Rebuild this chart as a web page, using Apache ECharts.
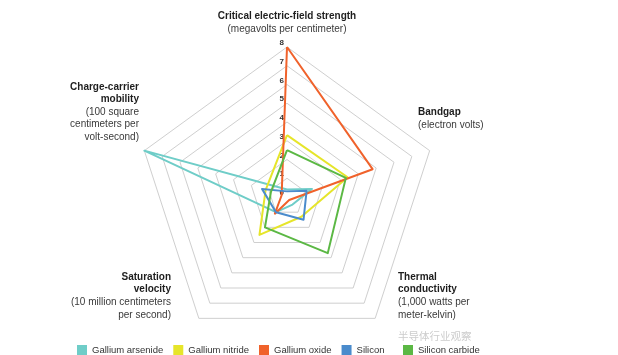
<!DOCTYPE html>
<html>
<head>
<meta charset="utf-8">
<script src="https://cdn.jsdelivr.net/npm/echarts@6/dist/echarts.min.js"></script>
<style>
html,body{margin:0;padding:0;background:#fff;}
#c{width:618px;height:355px;}
</style>
</head>
<body>
<div id="c"></div>
<script>
// Axes (counter-clockwise from top)
const axisNames = ['Critical electric-field strength', 'Charge-carrier mobility', 'Saturation velocity', 'Thermal conductivity', 'Bandgap'];
const axisMax = [8, 8, 8, 8, 8];
const tickLabels = ['0', '1', '2', '3', '4', '5', '6', '7', '8'];
const materials = ['Gallium arsenide', 'Gallium nitride', 'Gallium oxide', 'Silicon', 'Silicon carbide'];
const galliumArsenide = [0.4, 8.0, 1.0, 0.5, 1.4];
const galliumNitride = [3.3, 1.2, 2.5, 1.3, 3.4];
const galliumOxide = [8.0, 0.3, 1.1, 0.2, 4.8];
const silicon = [0.3, 1.4, 1.0, 1.5, 1.1];
const siliconCarbide = [2.5, 0.9, 2.0, 3.7, 3.3];
const colors = ['#6fcdc8', '#e6e52a', '#f0622b', '#4a8bcc', '#5bb844'];

const seriesValues = [galliumArsenide, galliumNitride, galliumOxide, silicon, siliconCarbide];
const FONT = '"Liberation Sans", Arial, sans-serif';

const chart = echarts.init(document.getElementById('c'), null, {renderer: 'canvas'});

function titleText(x, y, align, boldLines, normalLines, lh) {
  const parts = boldLines.map(s => '{b|' + s + '}').concat(normalLines.map(s => '{n|' + s + '}'));
  return {
    type: 'text', x: x, y: y, silent: true,
    style: {
      text: parts.join('\n'), align: align, verticalAlign: 'top',
      rich: {
        b: {fontFamily: FONT, fontSize: 10, fontWeight: 'bold', fill: '#1e1e1e', lineHeight: lh, align: align},
        n: {fontFamily: FONT, fontSize: 10, fill: '#3a3a3a', lineHeight: lh, align: align}
      }
    }
  };
}

const legendBase = {
  top: 345, padding: 0,
  icon: 'rect', itemWidth: 10, itemHeight: 10, itemGap: 10,
  textStyle: {fontFamily: FONT, fontSize: 9.5, color: '#333'}
};

const option = {
  backgroundColor: '#ffffff',
  animation: false,
  color: colors,
  legend: [
    Object.assign({}, legendBase, {data: materials.slice(0, 4), left: 77}),
    Object.assign({}, legendBase, {data: materials.slice(4), left: 403})
  ],
  radar: {
    center: [287, 197],
    radius: 150,
    startAngle: 90,
    shape: 'polygon',
    splitNumber: 8,
    indicator: axisNames.map((n, i) => ({
      name: n, min: 0, max: axisMax[i],
      axisLabel: i === 0 ? {show: true} : {show: false}
    })),
    axisName: {show: false},
    axisLine: {show: false},
    axisTick: {show: false},
    splitArea: {show: false},
    splitLine: {lineStyle: {color: '#cfcfcf', width: 1}},
    axisLabel: {
      show: true, margin: 3, verticalAlign: 'bottom',
      fontFamily: FONT, fontSize: 8, fontWeight: 'bold', color: '#333',
      formatter: (v) => tickLabels[Math.round(v)]
    }
  },
  series: [{
    type: 'radar',
    symbol: 'none',
    lineStyle: {width: 2},
    data: materials.map((m, i) => ({
      name: m, value: seriesValues[i],
      lineStyle: {color: colors[i], width: 2},
      itemStyle: {color: colors[i]}
    }))
  }],
  graphic: [
    titleText(287, 9.5, 'center', ['Critical electric-field strength'], ['(megavolts per centimeter)'], 13),
    titleText(418, 106, 'left', ['Bandgap'], ['(electron volts)'], 12.5),
    titleText(139, 80.5, 'right', ['Charge-carrier', 'mobility'], ['(100 square', 'centimeters per', 'volt-second)'], 12.5),
    titleText(171, 270.5, 'right', ['Saturation', 'velocity'], ['(10 million centimeters', 'per second)'], 12.7),
    titleText(398, 270.5, 'left', ['Thermal', 'conductivity'], ['(1,000 watts per', 'meter-kelvin)'], 12.7),
    {
      type: 'text', x: 398, y: 331, silent: true,
      style: {text: '半导体行业观察', fontFamily: '"Noto Sans CJK SC", sans-serif', fontSize: 10.5, fill: '#cccccc', align: 'left', verticalAlign: 'top'}
    }
  ]
};
chart.setOption(option);
</script>
</body>
</html>
